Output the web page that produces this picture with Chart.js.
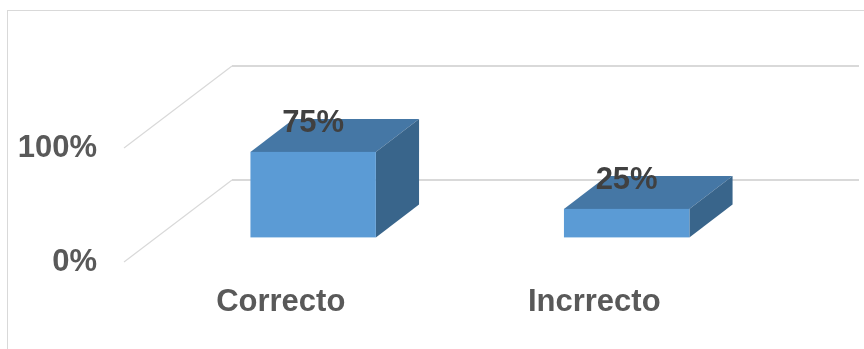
<!DOCTYPE html>
<html>
<head>
<meta charset="utf-8">
<script src="https://cdn.jsdelivr.net/npm/chart.js@4/dist/chart.umd.min.js"></script>
<style>
  body { margin: 0; background: #fff; }
</style>
</head>
<body>
<canvas id="myChart" width="864" height="349"></canvas>
<script>
const categories = ['Correcto', 'Incrrecto'];
const values = [75, 25];
const yTicks = [0, 100];

// back wall offset from the front plane, and where the boxes sit in depth
const depth = { x: 108, y: -82 };
const barFront = 0.3;
const barBack = 0.7;

const font = "'Liberation Sans', Arial, sans-serif";

function poly(ctx, pts, color) {
	ctx.fillStyle = color;
	ctx.beginPath();
	ctx.moveTo(pts[0][0], pts[0][1]);
	for (let p of pts.slice(1)) ctx.lineTo(p[0], p[1]);
	ctx.closePath();
	ctx.fill();
}

const box3d = {
	id: 'box3d',
	beforeDraw(chart) {
		const { ctx, chartArea: a, scales: { y } } = chart;
		ctx.save();
		ctx.strokeStyle = '#d9d9d9';
		ctx.lineWidth = 1;
		ctx.strokeRect(7.5, 10.5, 1000, 1000);

		for (let t of y.ticks) {
			let py = y.getPixelForValue(t.value);
			ctx.lineWidth = 1.2;
			ctx.beginPath();
			ctx.moveTo(a.left, py);
			ctx.lineTo(a.left + depth.x, py + depth.y);
			ctx.stroke();
			ctx.lineWidth = 2;
			ctx.beginPath();
			ctx.moveTo(a.left + depth.x, py + depth.y);
			ctx.lineTo(a.right + depth.x, py + depth.y);
			ctx.stroke();
		}
		ctx.restore();
	},
	afterDatasetsDraw(chart) {
		const ctx = chart.ctx;
		const meta = chart.getDatasetMeta(0);
		const fx = barFront * depth.x, fy = barFront * depth.y;
		const bx = (barBack - barFront) * depth.x, by = (barBack - barFront) * depth.y;

		ctx.save();
		meta.data.forEach((bar, i) => {
			const { x, y, base, width } = bar.getProps(['x', 'y', 'base', 'width'], true);
			let l = x - width / 2 + fx, r = x + width / 2 + fx;
			let t = y + fy, b = base + fy;

			poly(ctx, [[l, t], [r, t], [r + bx, t + by], [l + bx, t + by]], '#4577a5');
			poly(ctx, [[r, t], [r + bx, t + by], [r + bx, b + by], [r, b]], '#39658b');
			ctx.fillStyle = '#5b9bd5';
			ctx.fillRect(l, t, r - l, b - t);

			ctx.fillStyle = '#404040';
			ctx.font = 'bold 31px ' + font;
			ctx.textAlign = 'center';
			ctx.textBaseline = 'middle';
			ctx.fillText(values[i] + '%', x + fx, t + by + 4);
		});
		ctx.restore();
	}
};

new Chart(document.getElementById('myChart'), {
	type: 'bar',
	data: {
		labels: categories,
		datasets: [{
			data: values,
			backgroundColor: 'rgba(0,0,0,0)',
			categoryPercentage: 0.4,
			barPercentage: 1
		}]
	},
	options: {
		responsive: false,
		animation: false,
		layout: { padding: { left: 17, top: 148, right: 113, bottom: 0 } },
		plugins: { legend: { display: false }, tooltip: { enabled: false } },
		scales: {
			x: {
				grid: { display: false },
				border: { display: false },
				ticks: { color: '#595959', font: { family: font, size: 31, weight: 'bold' }, padding: 14 },
				afterFit: s => { s.height = 87; }
			},
			y: {
				min: 0,
				max: 100,
				afterBuildTicks: s => { s.ticks = yTicks.map(v => ({ value: v })); },
				grid: { display: false },
				border: { display: false },
				ticks: {
					color: '#595959',
					font: { family: font, size: 31, weight: 'bold' },
					padding: 19,
					callback: v => v + '%'
				},
				afterFit: s => { s.width = 107; }
			}
		}
	},
	plugins: [box3d]
});
</script>
</body>
</html>
